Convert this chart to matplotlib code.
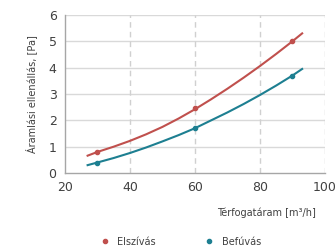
import matplotlib
matplotlib.use("Agg")
import matplotlib.pyplot as plt
from matplotlib.lines import Line2D

# Trendline readings
curve_x = [27, 30, 35, 40, 45, 50, 55, 60, 65, 70, 75, 80, 85, 90, 93]
elszivas_curve = [0.66, 0.8, 1.0, 1.22, 1.47, 1.75, 2.07, 2.42, 2.8, 3.2, 3.62, 4.06, 4.52, 5.0, 5.3]
befuvas_curve = [0.3, 0.4, 0.57, 0.76, 0.97, 1.2, 1.44, 1.7, 2.0, 2.3, 2.62, 2.96, 3.32, 3.7, 3.95]
# Measured points
pts_x = [30, 60, 90]
elszivas_pts = [0.8, 2.45, 5.0]
befuvas_pts = [0.4, 1.7, 3.7]

red = "#C0504D"
teal = "#1D7F91"

fig = plt.figure(figsize=(3.36, 2.49), dpi=100)
ax = fig.add_axes([0.193, 0.305, 0.774, 0.635])

ax.plot(curve_x, elszivas_curve, color=red, lw=1.5, solid_joinstyle="round")
ax.plot(curve_x, befuvas_curve, color=teal, lw=1.5, solid_joinstyle="round")
ax.plot(pts_x, elszivas_pts, 'o', color=red, ms=3)
ax.plot(pts_x, befuvas_pts, 'o', color=teal, ms=3)

ax.set_xlim(20, 100)
ax.set_ylim(0, 6)
ax.set_xticks([20, 40, 60, 80, 100])
ax.set_yticks([0, 1, 2, 3, 4, 5, 6])
for y in [1, 2, 3, 4, 5, 6]:
    ax.axhline(y, color="#D9D9D9", lw=1, zorder=0)
for x in [40, 60, 80, 100]:
    ax.axvline(x, color="#D0D0D0", lw=1, ls=(0, (4, 3)), zorder=0)
for s in ["top", "right"]:
    ax.spines[s].set_visible(False)
for s in ["left", "bottom"]:
    ax.spines[s].set_color("#A6A6A6")
    ax.spines[s].set_linewidth(1)
ax.tick_params(length=0, labelsize=9, colors="#404040", pad=6)

ax.set_ylabel("Áramlási ellenállás, [Pa]", fontsize=7, color="#404040", labelpad=8)
fig.text(0.94, 0.145, "Térfogatáram [m³/h]", fontsize=7, color="#404040", ha="right", va="center")

handles = [Line2D([], [], marker='o', ls='', color=red, ms=3),
           Line2D([], [], marker='o', ls='', color=teal, ms=3)]
fig.legend(handles, ["Elszívás", "Befúvás"], loc="center", bbox_to_anchor=(0.53, 0.03),
           ncol=2, frameon=False, fontsize=7, handletextpad=0.3, columnspacing=4.5,
           labelcolor="#404040")

fig.savefig("out.png", dpi=100)
